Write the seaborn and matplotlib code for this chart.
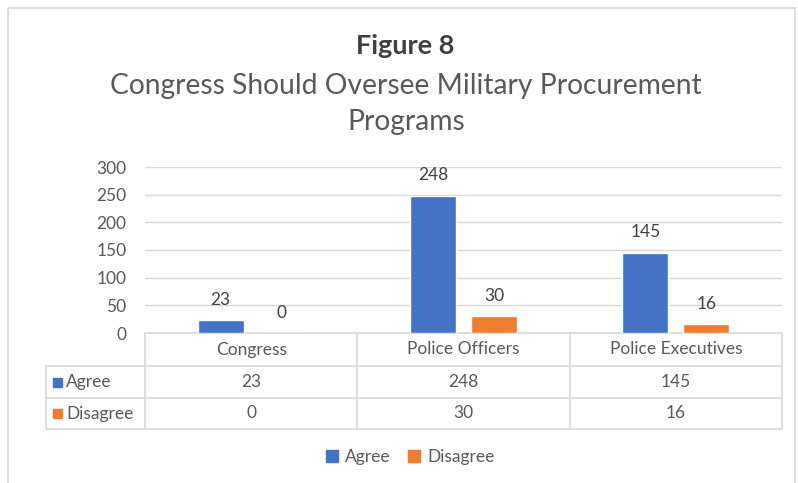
import matplotlib
matplotlib.use("Agg")
import matplotlib.pyplot as plt
import seaborn as sns
import pandas as pd
from matplotlib.patches import Patch, Rectangle

# ---- data ----
groups = ["Congress", "Police Officers", "Police Executives"]
series = ["Agree", "Disagree"]
agree = [23, 248, 145]
disagree = [0, 30, 16]
y_ticks = [0, 50, 100, 150, 200, 250, 300]
title_main = "Figure 8"
title_sub = "Congress Should Oversee Military Procurement\nPrograms"

colors = {"Agree": "#4472C4", "Disagree": "#ED7D31"}
TEXT = "#595959"
DARK = "#404040"
GRID = "#D9D9D9"
FS = 12.5

df = pd.DataFrame({
    "group": groups * 2,
    "response": ["Agree"] * len(groups) + ["Disagree"] * len(groups),
    "count": agree + disagree,
})

sns.set_theme(style="white")
plt.rcParams["font.family"] = ["Lato", "DejaVu Sans"]

W, H = 798, 483
fig = plt.figure(figsize=(W / 100, H / 100), dpi=100)

# overlay in pixel coordinates (origin top-left) for title, border and data table
ov = fig.add_axes([0, 0, 1, 1])
ov.set_xlim(0, W)
ov.set_ylim(H, 0)
ov.axis("off")

left, right, top, base = 145, 782, 167, 333
ax = fig.add_axes([left / W, 1 - base / H, (right - left) / W, (base - top) / H])
ax.patch.set_alpha(0)

sns.barplot(data=df, x="group", y="count", hue="response", hue_order=series,
            order=groups, palette=colors, width=0.576, gap=0.25,
            saturation=1, ax=ax, legend=False)

ax.set_xlim(-0.5, len(groups) - 0.5)
ax.set_ylim(0, 300)
ax.set_yticks(y_ticks)
ax.set_xticks([])
ax.set_xlabel("")
ax.set_ylabel("")
ax.grid(axis="y", color=GRID, lw=1)
ax.set_axisbelow(True)
for s in ax.spines.values():
    s.set_visible(False)
ax.tick_params(axis="y", length=0, pad=13.5, labelsize=FS, labelcolor=TEXT)

for cont in ax.containers:
    ax.bar_label(cont, padding=9, color=DARK, fontsize=FS)

# chart border
ov.add_patch(Rectangle((8, 8), 787, 520, fill=False, edgecolor=GRID, lw=1.2, clip_on=False))

# titles
ov.text(405, 46, title_main, ha="center", va="center", fontsize=19.5, fontweight="bold", color=DARK)
for i, line in enumerate(title_sub.split("\n")):
    ov.text(406, 86 + 36 * i, line, ha="center", va="center", fontsize=20.3, color=TEXT)

# ---- data table below the plot ----
def px_x(xd):
    return ax.transData.transform((xd, 0))[0]

bounds = [px_x(i - 0.5) for i in range(len(groups) + 1)]
centers = [px_x(i) for i in range(len(groups))]
row_y = [333, 366, 398, 429]
tbl_left = 46
line_kw = dict(color=GRID, lw=1.2, clip_on=False)

ov.plot([bounds[0], bounds[-1]], [row_y[0], row_y[0]], **line_kw)
for y in row_y[1:]:
    ov.plot([tbl_left, bounds[-1]], [y, y], **line_kw)
for xb in bounds:
    ov.plot([xb, xb], [row_y[0], row_y[-1]], **line_kw)
ov.plot([tbl_left, tbl_left], [row_y[1], row_y[-1]], **line_kw)

for cx, g in zip(centers, groups):
    ov.text(cx, (row_y[0] + row_y[1]) / 2, g, ha="center", va="center", fontsize=FS, color=TEXT)

for r, (name, vals) in enumerate(zip(series, [agree, disagree])):
    yc = (row_y[r + 1] + row_y[r + 2]) / 2
    ov.add_patch(Rectangle((53, yc - 4.5), 9, 9, color=colors[name], clip_on=False))
    ov.text(66, yc, name, ha="left", va="center", fontsize=FS, color=TEXT)
    for cx, v in zip(centers, vals):
        ov.text(cx, yc, str(v), ha="center", va="center", fontsize=FS, color=TEXT)

# legend
handles = [Patch(color=colors[s]) for s in series]
fig.legend(handles, series, loc="center", bbox_to_anchor=(410 / W, 1 - 457 / H),
           ncol=2, frameon=False, handlelength=0.7, handleheight=0.7,
           handletextpad=0.4, columnspacing=1.0, fontsize=FS, labelcolor=TEXT)

fig.savefig("out.png", dpi=100, facecolor="white")
